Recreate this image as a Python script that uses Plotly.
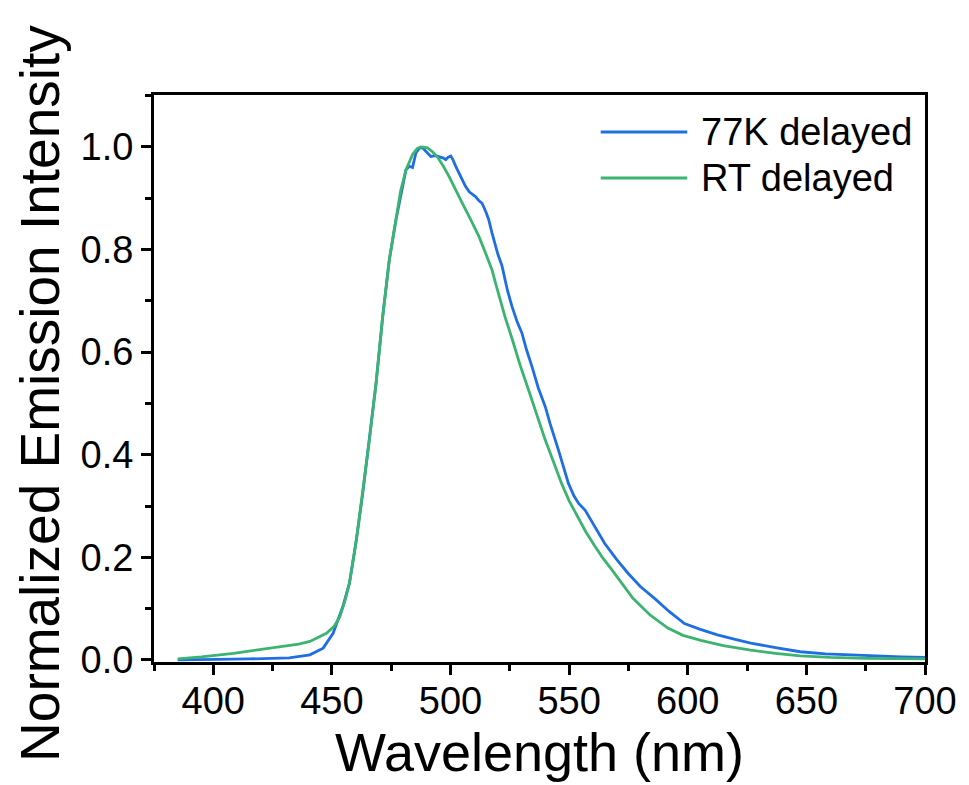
import plotly.graph_objects as go

# 77K delayed
wl_77k = [385, 395, 401.6, 415, 432, 440.7, 446.3, 450.5, 454.6, 457.4, 460.3, 463.0, 465.8,
          468.6, 471.4, 474.2, 477.0, 479.5, 481.2, 482.6, 484.0, 485.4, 486.8, 488.0, 489.6,
          491.7, 493.5, 495.2, 497, 498.0, 499, 500.1, 501, 502.2, 504, 506.3, 508, 510.5,
          512.0, 513.3, 515, 516.1, 517.5, 518.9, 520, 521.7, 524, 525.9, 528, 530.1, 532,
          534.3, 537, 539.9, 542, 545.5, 548, 549.7, 552, 554, 556.7, 560, 565.0, 570, 574.8,
          580, 586.0, 592, 598.6, 605, 612.5, 620, 626.5, 637, 647.4, 658, 668.4, 680, 690, 700]
int_77k = [0.0, 0.0, 0.001, 0.002, 0.004, 0.010, 0.023, 0.052, 0.104, 0.150, 0.234, 0.325, 0.429,
           0.539, 0.669, 0.780, 0.858, 0.920, 0.955, 0.962, 0.960, 0.988, 0.997, 0.999, 0.991,
           0.981, 0.983, 0.981, 0.978, 0.975, 0.980, 0.982, 0.975, 0.962, 0.945, 0.923, 0.912, 0.903,
           0.895, 0.890, 0.872, 0.858, 0.832, 0.806, 0.790, 0.768, 0.720, 0.689, 0.660, 0.637, 0.605,
           0.572, 0.530, 0.494, 0.460, 0.409, 0.370, 0.344, 0.320, 0.305, 0.292, 0.265, 0.227, 0.196, 0.169,
           0.143, 0.120, 0.095, 0.071, 0.060, 0.049, 0.040, 0.033, 0.024, 0.016, 0.012, 0.010, 0.007, 0.006, 0.005]

# RT delayed
wl_rt = [385, 395, 408.5, 420, 429.5, 436, 440.7, 444, 447.7, 451, 453.3, 455.5, 457.4, 460.3,
         463.0, 465.8, 468.6, 471.4, 474.2, 477.0, 479, 481.2, 484.0, 486, 487.5, 490.3, 492.5,
         494.5, 497, 499.4, 502, 505.0, 508.5, 512.0, 515, 517.5, 519.0, 521, 523, 526, 529.5,
         532.9, 536.5, 539.9, 543.5, 546.8, 550, 553.8, 557, 560.8, 564, 567.8, 572, 576.9, 584,
         591.6, 598, 605.5, 615, 626.5, 637, 647.4, 660, 675, 700]
int_rt = [0.002, 0.006, 0.013, 0.020, 0.026, 0.031, 0.036, 0.043, 0.052, 0.066, 0.084, 0.115, 0.150, 0.234,
          0.325, 0.429, 0.539, 0.669, 0.780, 0.858, 0.915, 0.955, 0.985, 0.997, 1.000, 0.998, 0.990,
          0.980, 0.962, 0.942, 0.917, 0.890, 0.858, 0.825, 0.790, 0.760, 0.734, 0.700, 0.668, 0.625, 0.572,
          0.526, 0.476, 0.429, 0.385, 0.344, 0.310, 0.279, 0.250, 0.222, 0.200, 0.177, 0.150, 0.120, 0.088,
          0.062, 0.048, 0.038, 0.028, 0.019, 0.013, 0.008, 0.005, 0.003, 0.002]

series_names = ["77K delayed", "RT delayed"]
series_colors = ["#1f6ee3", "#3cb371"]

x_ticks = [400, 450, 500, 550, 600, 650, 700]
y_ticks = [0.0, 0.2, 0.4, 0.6, 0.8, 1.0]

FONT = "Liberation Sans, Arial, sans-serif"

fig = go.Figure()
fig.add_trace(go.Scatter(x=wl_77k, y=int_77k, mode="lines", name=series_names[0],
                         line=dict(color=series_colors[0], width=2.8), showlegend=False))
fig.add_trace(go.Scatter(x=wl_rt, y=int_rt, mode="lines", name=series_names[1],
                         line=dict(color=series_colors[1], width=2.8), showlegend=False))

# manual legend (long line samples as in reference)
leg_y = [0.9347, 0.8536]
for name, color, yy in zip(series_names, series_colors, leg_y):
    fig.add_shape(type="line", xref="paper", yref="paper", x0=0.5794, x1=0.6916, y0=yy, y1=yy,
                  line=dict(color=color, width=3))
    fig.add_annotation(xref="paper", yref="paper", x=0.7071, y=yy, text=name, showarrow=False,
                       xanchor="left", yanchor="middle", font=dict(family=FONT, size=38, color="black"))

# y-axis title as rotated annotation (slightly below plot centre, as in reference)
fig.add_annotation(xref="paper", yref="paper", x=-0.147, y=0.474, text="Normalized Emission Intensity",
                   textangle=-90, showarrow=False, xanchor="center", yanchor="middle",
                   font=dict(family=FONT, size=55, color="black"))

axis_common = dict(showline=True, linecolor="black", linewidth=3, mirror=True,
                   ticks="outside", ticklen=10, tickwidth=3, tickcolor="black",
                   showgrid=False, zeroline=False,
                   tickfont=dict(family=FONT, size=38, color="black"))

fig.update_xaxes(range=[375, 700], tickvals=x_ticks, ticktext=[str(v) for v in x_ticks],
                 ticklabelstandoff=-7,
                 minor=dict(ticks="outside", ticklen=6, tickwidth=2.5, tickcolor="black", dtick=25, tick0=375),
                 title=dict(text="Wavelength (nm)", font=dict(family=FONT, size=54, color="black"), standoff=8),
                 **axis_common)
fig.update_yaxes(range=[-0.004, 1.101], tickvals=y_ticks, ticktext=[f"{v:.1f}" for v in y_ticks],
                 minor=dict(ticks="outside", ticklen=6, tickwidth=2.5, tickcolor="black", dtick=0.1, tick0=0),
                 **axis_common)

fig.update_layout(width=969, height=785, margin=dict(l=154, r=40, t=95, b=123),
                  plot_bgcolor="white", paper_bgcolor="white", showlegend=False,
                  font=dict(family=FONT, color="black"))

fig.write_html("out.html")
